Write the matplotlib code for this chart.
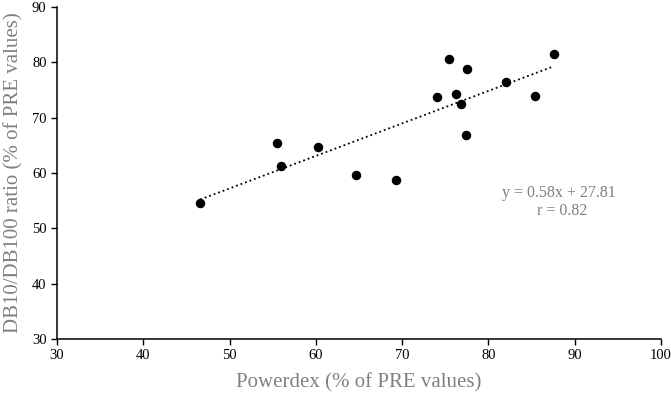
import numpy as np
import matplotlib
matplotlib.use('Agg')
import matplotlib.pyplot as plt

plt.rcParams['font.family'] = ['Liberation Serif', 'DejaVu Serif']

# data
powerdex = [46.6, 55.5, 56.0, 60.2, 64.6, 69.3, 74.1, 75.4, 76.2, 76.8, 77.5, 77.4, 82.0, 85.4, 87.6]
db_ratio = [54.6, 65.4, 61.2, 64.7, 59.6, 58.7, 73.7, 80.6, 74.3, 72.5, 78.8, 66.9, 76.4, 74.0, 81.6]
eq_text = 'y = 0.58x + 27.81'
r_text = 'r = 0.82'

gray = '#808080'

fig = plt.figure(figsize=(6.71, 3.94), dpi=100)
ax = fig.add_axes([0.085, 0.14, 0.9, 0.842])

ax.scatter(powerdex, db_ratio, s=34, color='black', zorder=3)

# linear trend line
x = np.array(powerdex)
y = np.array(db_ratio)
slope, intercept = np.polyfit(x, y, 1)
xs = np.array([x.min(), x.max()])
ax.plot(xs, slope * xs + intercept, color='black', linestyle=':', linewidth=1.3)

ax.text(88.2, 56.4, eq_text, ha='center', va='center', fontsize=11.5, color=gray)
ax.text(88.6, 53.1, r_text, ha='center', va='center', fontsize=11.5, color=gray)

ax.set_xlim(30, 100)
ax.set_ylim(30, 90)
ax.set_xticks(range(30, 101, 10))
ax.set_yticks(range(30, 91, 10))
ax.tick_params(direction='out', length=4, width=1, labelsize=10.5, colors='black')
for s in ['top', 'right']:
    ax.spines[s].set_visible(False)
for s in ['left', 'bottom']:
    ax.spines[s].set_linewidth(1.1)

ax.set_xlabel('Powerdex (% of PRE values)', fontsize=15, color=gray, labelpad=8)
ax.set_ylabel('DB10/DB100 ratio (% of PRE values)', fontsize=15, color=gray, labelpad=6)

fig.savefig('out.png', dpi=100)
